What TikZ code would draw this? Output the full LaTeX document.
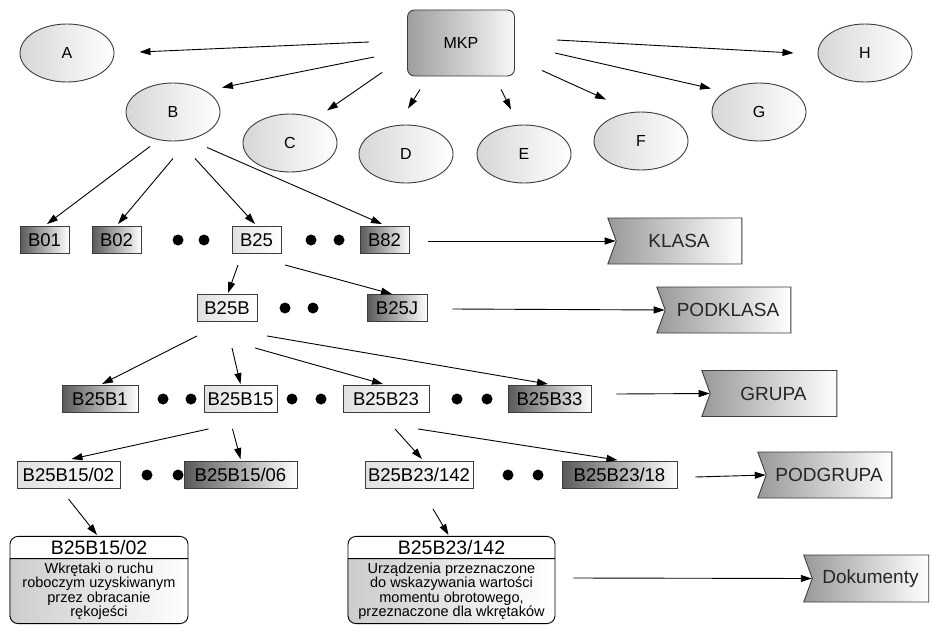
\documentclass[tikz,border=0pt]{standalone}
\usepackage{fontspec}
\setmainfont{Liberation Sans}
\usetikzlibrary{arrows.meta, calc, shapes.geometric, shapes.symbols, shapes.multipart, backgrounds}
\definecolor{cedge}{HTML}{3C3C3C}
\tikzset{
  every picture/.style={line width=0.9pt},
  elli/.style={ellipse, draw=cedge, left color=black!16, right color=white, minimum width=94pt, minimum height=58pt, inner sep=0pt, font=\fontsize{16}{18}\selectfont},
  cbox/.style={draw=cedge, left color=#1, right color=white, minimum height=27pt, inner sep=0pt, font=\fontsize{18.5}{20}\selectfont},
  cbox/.default=black!12,
  dark/.style={cbox=black!65},
  lab/.style={signal, signal from=west, signal to=nowhere, signal pointer angle=140, draw=cedge, left color=black!40, right color=white, minimum width=134pt, minimum height=46pt, inner sep=0pt, text=black!85, font=\fontsize{19}{21}\selectfont},
  doc/.style={rectangle split, rectangle split parts=2, draw=black, rounded corners=8pt, align=center, inner xsep=3pt, inner ysep=3.5pt, font=\fontsize{14.5}{14.5}\selectfont},
  docfill/.style={left color=black!20, right color=white, rounded corners=8pt},
  arr/.style={-{Triangle[length=11pt, width=7pt]}, draw=black},
}

\begin{document}
\begin{tikzpicture}[x=1pt, y=-1pt]
  \useasboundingbox (0,0) rectangle (933,626);
  \node[draw=cedge, rounded corners=7pt, left color=black!38, right color=black!3, minimum width=107pt, minimum height=66pt, font=\fontsize{16}{18}\selectfont] (mkp) at (461,43) {MKP};
  \node[elli] (a) at (67,53) {A}; \node[elli] (b) at (173,112) {B}; \node[elli] (c) at (290,143) {C}; \node[elli] (d) at (406,154) {D};
  \node[elli] (e) at (524,154) {E}; \node[elli] (f) at (641,141) {F}; \node[elli] (g) at (759,112) {G}; \node[elli] (h) at (865,53) {H};
  \draw[arr] ($(mkp.west)+(-38,-1)$) -- ($(a.east)+(25,-1)$);
  \draw[arr] ($(mkp.west)+(-33,14)$) -- ($(b.north)+(49,5)$);
  \draw[arr] ($(mkp.south west)+(-25,-4)$) -- ($(c.north)+(37,-3)$);
  \draw[arr] ($(mkp.south west)+(13,13)$) -- ($(d.north)+(2,-16)$);
  \draw[arr] ($(mkp.south)+(40,13)$) -- ($(e.north)+(-13,-15)$);
  \draw[arr] ($(mkp.south east)+(27,-6)$) -- ($(f.north)+(-35,-12)$);
  \draw[arr] ($(mkp.east)+(40,10)$) -- ($(g.north)+(-48,6)$);
  \draw[arr] ($(mkp.east)+(42,-3)$) -- ($(h.west)+(-24,0)$);
  % klasa
  \node[dark, minimum width=49pt] (b01) at (44.5,240) {B01}; \node[dark, minimum width=49pt] (b02) at (116.5,240) {B02};
  \node[cbox, minimum width=49pt] (b25) at (256.5,240) {B25}; \node[dark, minimum width=49pt] (b82) at (384.5,240) {B82};
  \foreach \x in {178,204,311,339} \fill (\x,240) circle (5.5pt);
  \draw[arr] ($(b.south)+(-23,5)$) -- ($(b01.north)+(2.5,-2)$);
  \draw[arr] ($(b.south)+(0,17)$) -- ($(b02.north)+(1.5,-2)$);
  \draw[arr] ($(b.south)+(22,17)$) -- ($(b25.north)+(-1.5,-2)$);
  \draw[arr] ($(b.south)+(34,6)$) -- ($(b82.north)+(-2.5,-2)$);
  \node[lab] (klasa) at (679,241) {KLASA};
  \draw[arr] ($(b82.east)+(19,1)$) -- (klasa.west);
  % podklasa
  \node[cbox, minimum width=60pt] (b25b) at (227,308) {B25B}; \node[dark, minimum width=60pt] (b25j) at (397,308) {B25J};
  \foreach \x in {285,313} \fill (\x,308) circle (5.5pt);
  \draw[arr] ($(b25.south)+(-18.5,11)$) -- ($(b25b.north)+(1,-1)$);
  \draw[arr] ($(b25.south)+(28.5,11)$) -- ($(b25j.north)+(-5,0)$);
  \node[lab] (podklasa) at (728,310) {PODKLASA};
  \draw[arr] ($(b25j.east)+(25,1)$) -- (podklasa.west);
  % grupa
  \node[dark, minimum width=76pt] (b25b1) at (100,399) {B25B1}; \node[cbox, minimum width=73pt] (b25b15) at (240.5,399) {B25B15};
  \node[cbox, minimum width=86pt] (b25b23) at (386,399) {B25B23}; \node[dark, minimum width=83pt] (b25b33) at (549.5,399) {B25B33};
  \foreach \x in {163,191,292,321,457,487} \fill (\x,399) circle (5.5pt);
  \draw[arr] ($(b25b.south)+(-30,14)$) -- ($(b25b1.north)+(2,-1)$);
  \draw[arr] ($(b25b.south)+(5,26)$) -- ($(b25b15.north)+(0,-1)$);
  \draw[arr] ($(b25b.south)+(28,26)$) -- ($(b25b23.north)+(-3,-1)$);
  \draw[arr] ($(b25b.south)+(40,14)$) -- ($(b25b33.north)+(-1.5,-1)$);
  \node[lab, minimum width=135pt] (grupa) at (773.5,393.5) {GRUPA};
  \draw[arr] ($(b25b33.east)+(25,-5)$) -- (grupa.west);
  % podgrupa
  \node[cbox, minimum width=103pt] (b25b1502) at (68.5,475) {B25B15/02}; \node[dark, minimum width=113pt] (b25b1506) at (240.5,475) {B25B15/06};
  \node[cbox, minimum width=108pt] (b25b23142) at (419,475) {B25B23/142}; \node[dark, minimum width=115pt] (b25b2318) at (619.5,475) {B25B23/18};
  \foreach \x in {147,178,508,538} \fill (\x,475) circle (5.5pt);
  \draw[arr] ($(b25b15.south)+(-32,16)$) -- ($(b25b1502.north)+(3,-2)$);
  \draw[arr] ($(b25b15.south)+(-8,16)$) -- ($(b25b1506.north)+(0,-2)$);
  \draw[arr] ($(b25b23.south)+(9,16)$) -- ($(b25b23142.north)+(3,-2)$);
  \draw[arr] ($(b25b23.south)+(32,16)$) -- ($(b25b2318.north)+(-2,-1)$);
  \node[lab] (podgrupa) at (829,475) {PODGRUPA};
  \draw[arr] ($(b25b2318.east)+(18,2)$) -- (podgrupa.west);
  % dokumenty
  \node[doc, minimum width=178pt] (doc1) at (99,580) {\fontsize{19.5}{20}\selectfont B25B15/02\nodepart{two}Wkrętaki o ruchu\\roboczym uzyskiwanym\\przez obracanie\\rękojeści};
  \node[doc, minimum width=207pt] (doc2) at (451.5,580) {\fontsize{19.5}{20}\selectfont B25B23/142\nodepart{two}Urządzenia przeznaczone\\do wskazywania wartości\\momentu obrotowego,\\przeznaczone dla wkrętaków};
  \begin{scope}[on background layer]
    \shade[docfill] (doc1.one split west) -- (doc1.south west) -- (doc1.south east) -- (doc1.one split east);
    \shade[docfill] (doc2.one split west) -- (doc2.south west) -- (doc2.south east) -- (doc2.one split east);
  \end{scope}
  \draw[arr] ($(b25b1502.south)+(0,10)$) -- ($(doc1.north)+(-2,-1)$);
  \draw[arr] ($(b25b23142.south)+(14,20)$) -- ($(doc2.north)+(-3,-1)$);
  \node[lab, minimum width=125pt, minimum height=47pt] (dok) at (870.5,578.5) {Dokumenty};
  \draw[arr] ($(doc2.east)+(18,-2)$) -- (dok.west);
\end{tikzpicture}
\end{document}
